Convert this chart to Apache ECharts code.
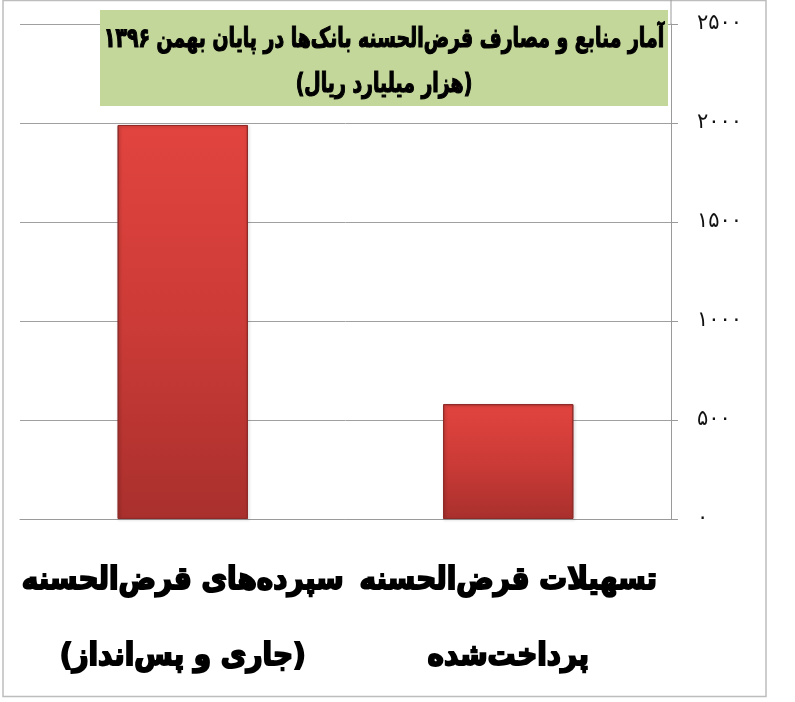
<!DOCTYPE html>
<html><head><meta charset="utf-8">
<script src="https://cdn.jsdelivr.net/npm/echarts@6/dist/echarts.min.js"></script>
<style>html,body{margin:0;padding:0;background:#fff}#c{width:795px;height:702px}</style>
</head><body><div id="c"></div>
<script>
const categories = ['سپرده‌های قرض‌الحسنه\n(جاری و پس‌انداز)', 'تسهیلات قرض‌الحسنه\nپرداخت‌شده'];
const values = [1990, 580];
const yTickValues = [0, 500, 1000, 1500, 2000, 2500];
const yTickLabels = ['۰', '۵۰۰', '۱۰۰۰', '۱۵۰۰', '۲۰۰۰', '۲۵۰۰'];
const titleLines = ['آمار منابع و مصارف قرض‌الحسنه بانک‌ها در پایان بهمن ۱۳۹۶', '(هزار میلیارد ریال)'];

const chart = echarts.init(document.getElementById('c'));
const FONT = '"DejaVu Sans Condensed", "DejaVu Sans"';
chart.setOption({
  animation: false,
  grid: {left: 20, right: 124, top: 24, bottom: 183, outerBoundsMode: 'none', containLabel: false},
  xAxis: {
    type: 'category', data: categories,
    axisLine: {lineStyle: {color: '#9a9a9a', width: 1}},
    axisTick: {length: 15, lineStyle: {color: '#9a9a9a'}},
    axisLabel: {color: '#000', fontFamily: FONT, fontWeight: 'bold', fontSize: 31, lineHeight: 76, margin: 24, interval: 0,
      textBorderColor: '#000', textBorderWidth: 1.8}
  },
  yAxis: {
    type: 'value', position: 'right', min: 0, max: 2500, interval: 500,
    axisLine: {show: true, lineStyle: {color: '#9a9a9a'}},
    axisTick: {show: true, length: 7, lineStyle: {color: '#9a9a9a'}},
    splitLine: {lineStyle: {color: '#a0a0a0', width: 1}},
    axisLabel: {color: '#111', fontFamily: '"DejaVu Sans"', fontSize: 21, margin: 26, align: 'left',
      formatter: v => yTickLabels[yTickValues.indexOf(v)]}
  },
  series: [{
    type: 'bar', data: values, barWidth: '40%',
    itemStyle: {
      color: new echarts.graphic.LinearGradient(0, 0, 0, 1, [
        {offset: 0, color: '#e2443f'}, {offset: 0.5, color: '#cc3b37'}, {offset: 1, color: '#a9302d'}]),
      borderColor: '#8e2a28', borderWidth: 1,
      shadowColor: 'rgba(0,0,0,0.25)', shadowBlur: 3, shadowOffsetX: 1, shadowOffsetY: 1
    }
  }]
});

const topPt = chart.convertToPixel({gridIndex: 0}, [0, 2500]);
const axisX = chart.getWidth() - 124;
chart.setOption({
  graphic: [
    {type: 'rect', shape: {x: 3, y: 0.5, width: 763, height: 696}, style: {fill: 'none', stroke: '#bdbdbd', lineWidth: 1.5}, z: 0},
    {type: 'line', shape: {x1: axisX, y1: 0, x2: axisX, y2: topPt[1]}, style: {stroke: '#9a9a9a', lineWidth: 1}},
    {type: 'rect', shape: {x: 100, y: 10, width: 568, height: 96}, style: {fill: '#c4d79b'}, z: 10},
    {type: 'text', x: 384, y: 40, scaleY: 1.3, z: 11, style: {text: titleLines[0], font: 'bold 21px ' + FONT, fill: '#000', stroke: '#000', lineWidth: 0.9, align: 'center', verticalAlign: 'middle'}},
    {type: 'text', x: 384, y: 85, scaleY: 1.3, z: 11, style: {text: titleLines[1], font: 'bold 21px ' + FONT, fill: '#000', stroke: '#000', lineWidth: 0.9, align: 'center', verticalAlign: 'middle'}}
  ]
});
</script></body></html>
